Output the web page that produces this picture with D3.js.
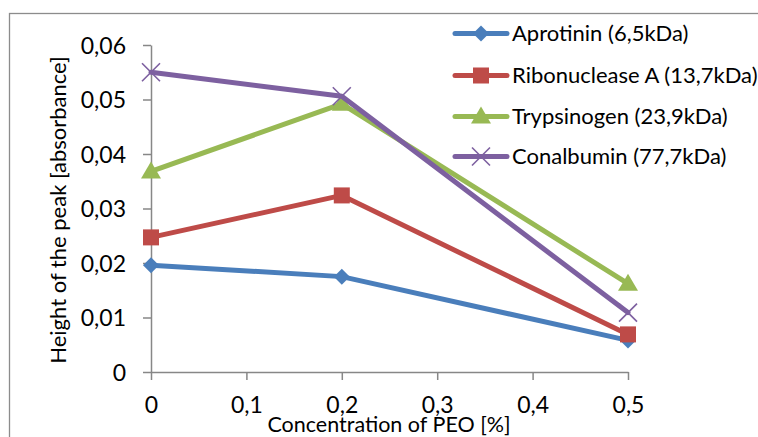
<!DOCTYPE html>
<html><head><meta charset="utf-8">
<script src="https://cdn.jsdelivr.net/npm/d3@7"></script>
<style>
html,body{margin:0;padding:0;background:#fff;}
svg{display:block;font-family:Lato,"Open Sans",sans-serif;}
</style></head>
<body>
<svg id="c" width="758" height="437"></svg>
<script>
const xValues = [0, 0.2, 0.5];
const aprotinin = [0.0196, 0.0175, 0.0058];
const ribonuclease = [0.0247, 0.0324, 0.0069];
const trypsinogen = [0.0368, 0.0492, 0.0162];
const conalbumin = [0.0550, 0.0506, 0.0109];
const seriesNames = ["Aprotinin (6,5kDa)", "Ribonuclease A (13,7kDa)", "Trypsinogen (23,9kDa)", "Conalbumin (77,7kDa)"];
const xTicks = [0, 0.1, 0.2, 0.3, 0.4, 0.5];
const yTicks = [0, 0.01, 0.02, 0.03, 0.04, 0.05, 0.06];
const xTitle = "Concentration of PEO [%]";
const yTitle = "Height of the peak [absorbance]";

const colors = ["#4A7EBB", "#BE4B48", "#98B954", "#7D60A0"];
const markers = ["diamond", "square", "triangle", "x"];
const seriesData = [aprotinin, ribonuclease, trypsinogen, conalbumin];

const svg = d3.select("#c");
const x = d3.scaleLinear().domain([0, 0.5]).range([151, 628]);
const y = d3.scaleLinear().domain([0, 0.06]).range([372, 45]);

// outer border
svg.append("rect").attr("x", 9.5).attr("y", 13.5).attr("width", 800).attr("height", 500)
  .attr("fill", "none").attr("stroke", "#8c8c8c").attr("stroke-width", 1.3);

const fmt = d => d === 0 ? "0" : String(d).replace(".", ",");
const axisColor = "#878787";

const gx = svg.append("g").attr("transform", `translate(0,${y(0)})`)
  .call(d3.axisBottom(x).tickValues(xTicks).tickFormat(fmt).tickSize(8).tickSizeOuter(0));
gx.select(".domain").attr("stroke", axisColor).attr("stroke-width", 1.5);
gx.selectAll(".tick line").attr("stroke", axisColor).attr("stroke-width", 1.5);
gx.selectAll(".tick text").attr("y", 41).attr("dy", null).attr("fill", "#000")
  .style("font-size", "23px").style("font-family", "Lato");

const gy = svg.append("g").attr("transform", `translate(${x(0)},0)`)
  .call(d3.axisLeft(y).tickValues(yTicks).tickFormat(fmt).tickSize(8).tickSizeOuter(0));
gy.select(".domain").attr("stroke", axisColor).attr("stroke-width", 1.5);
gy.selectAll(".tick line").attr("stroke", axisColor).attr("stroke-width", 1.5);
gy.selectAll(".tick text").attr("x", -25).attr("dy", "0.36em").attr("fill", "#000")
  .style("font-size", "23px").style("font-family", "Lato");

svg.append("text").attr("x", 389).attr("y", 432).attr("text-anchor", "middle")
  .style("font-size", "21.5px").text(xTitle);
svg.append("text").attr("transform", "translate(66,210) rotate(-90)").attr("text-anchor", "middle")
  .style("font-size", "22px").text(yTitle);

function drawMarker(g, type, cx, cy, color) {
  if (type === "diamond") {
    g.append("path").attr("d", `M${cx},${cy-8}L${cx+8},${cy}L${cx},${cy+8}L${cx-8},${cy}Z`).attr("fill", color);
  } else if (type === "square") {
    g.append("rect").attr("x", cx-8).attr("y", cy-8).attr("width", 16).attr("height", 16).attr("fill", color);
  } else if (type === "triangle") {
    g.append("path").attr("d", `M${cx},${cy-10}L${cx+10},${cy+7}L${cx-10},${cy+7}Z`).attr("fill", color);
  } else {
    g.append("path").attr("d", `M${cx-9},${cy-9}L${cx+9},${cy+9}M${cx-9},${cy+9}L${cx+9},${cy-9}`)
      .attr("stroke", color).attr("stroke-width", 1.6).attr("fill", "none");
  }
}

const line = d3.line().x((d, i) => x(xValues[i])).y(d => y(d));
seriesData.forEach((vals, si) => {
  const g = svg.append("g");
  g.append("path").datum(vals).attr("d", line).attr("fill", "none")
    .attr("stroke", colors[si]).attr("stroke-width", 5).attr("stroke-linejoin", "round").attr("stroke-linecap", "round");
  vals.forEach((v, i) => drawMarker(g, markers[si], x(xValues[i]), y(v), colors[si]));
});

// legend
const legendY = [33.5, 75.5, 116.5, 156.5];
seriesNames.forEach((name, i) => {
  const g = svg.append("g");
  g.append("line").attr("x1", 455).attr("x2", 507).attr("y1", legendY[i]).attr("y2", legendY[i])
    .attr("stroke", colors[i]).attr("stroke-width", 5).attr("stroke-linecap", "round");
  drawMarker(g, markers[i], 481, legendY[i], colors[i]);
  g.append("text").attr("x", 512).attr("y", legendY[i]).attr("dy", "0.36em")
    .style("font-size", "22px").text(name);
});
</script>
</body></html>
